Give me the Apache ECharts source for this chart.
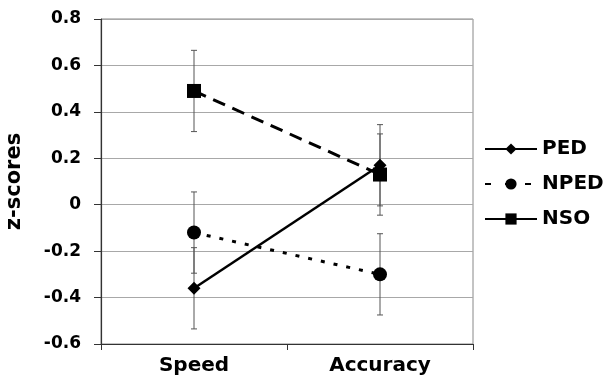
<!DOCTYPE html>
<html>
<head>
<meta charset="utf-8">
<script src="https://cdn.jsdelivr.net/npm/echarts@6/dist/echarts.min.js"></script>
<style>
  html, body { margin: 0; padding: 0; background: #fff; }
  #chart { width: 610px; height: 385px; }
</style>
</head>
<body>
<div id="chart"></div>
<script>
// 数据
var categories = ['Speed', 'Accuracy'];
var pedMean = [-0.36, 0.17];
var npedMean = [-0.12, -0.30];
var nsoMean = [0.49, 0.13];
// 误差 (+/-)
var pedErr = [0.175, 0.175];
var npedErr = [0.175, 0.175];
var nsoErr = [0.175, 0.175];

var FONT = 'DejaVu Sans';

function errData(mean, err) {
    return mean.map(function (m, i) { return [i, m - err[i], m + err[i]]; });
}

function errSeries(mean, err) {
    return {
        type: 'custom',
        z: 1,
        silent: true,
        data: errData(mean, err),
        renderItem: function (params, api) {
            var lo = api.coord([api.value(0), api.value(1)]);
            var hi = api.coord([api.value(0), api.value(2)]);
            var w = 3;
            var st = { stroke: '#555', lineWidth: 1 };
            return {
                type: 'group',
                children: [
                    { type: 'line', shape: { x1: lo[0], y1: lo[1], x2: hi[0], y2: hi[1] }, style: st },
                    { type: 'line', shape: { x1: lo[0] - w, y1: lo[1], x2: lo[0] + w, y2: lo[1] }, style: st },
                    { type: 'line', shape: { x1: hi[0] - w, y1: hi[1], x2: hi[0] + w, y2: hi[1] }, style: st }
                ]
            };
        }
    };
}

var myChart = echarts.init(document.getElementById('chart'));

option = {
    animation: false,
    backgroundColor: '#fff',
    grid: {
        left: 101,
        right: 137,
        top: 19,
        bottom: 41,
        outerBoundsMode: 'none',
        containLabel: false,
        show: true,
        borderColor: '#888',
        borderWidth: 1
    },
    legend: {
        orient: 'vertical',
        left: 479,
        top: 134,
        itemWidth: 52,
        itemHeight: 14,
        itemGap: 15,
        textStyle: { fontFamily: FONT, fontWeight: 'bold', fontSize: 20, color: '#000' },
        data: [
            { name: 'PED' },
            { name: 'NPED', lineStyle: { type: [6, 14] } },
            { name: 'NSO', lineStyle: { type: 'solid' } }
        ]
    },
    xAxis: {
        type: 'category',
        data: categories,
        boundaryGap: true,
        axisLine: { onZero: false, lineStyle: { color: '#333', width: 1.2 } },
        axisTick: { show: true, length: 6, lineStyle: { color: '#333' } },
        axisLabel: { fontFamily: FONT, fontWeight: 'bold', fontSize: 20, color: '#000', margin: 12 }
    },
    yAxis: {
        type: 'value',
        min: -0.6,
        max: 0.8,
        interval: 0.2,
        name: 'z-scores',
        nameLocation: 'middle',
        nameRotate: 90,
        nameGap: 76,
        nameTextStyle: { fontFamily: FONT, fontWeight: 'bold', fontSize: 21, color: '#000' },
        axisLine: { show: true, lineStyle: { color: '#333', width: 1.2 } },
        axisTick: { show: true, length: 7, lineStyle: { color: '#333' } },
        splitLine: { lineStyle: { color: '#a8a8a8', width: 1 } },
        axisLabel: {
            fontFamily: FONT, fontWeight: 'bold', fontSize: 17, color: '#000', margin: 20,
            formatter: function (v) { return String(+v.toFixed(1)); }
        }
    },
    series: [
        {
            name: 'PED',
            type: 'line',
            z: 3,
            data: pedMean,
            symbol: 'diamond',
            symbolSize: 13,
            itemStyle: { color: '#000' },
            lineStyle: { color: '#000', width: 2.5, type: 'solid' }
        },
        {
            name: 'NPED',
            type: 'line',
            z: 3,
            data: npedMean,
            symbol: 'circle',
            symbolSize: 14,
            itemStyle: { color: '#000' },
            lineStyle: { color: '#000', width: 3, type: [4, 9] }
        },
        {
            name: 'NSO',
            type: 'line',
            z: 3,
            data: nsoMean,
            symbol: 'rect',
            symbolSize: 14,
            itemStyle: { color: '#000' },
            lineStyle: { color: '#000', width: 3, type: [13, 8] }
        },
        errSeries(pedMean, pedErr),
        errSeries(npedMean, npedErr),
        errSeries(nsoMean, nsoErr)
    ]
};

myChart.setOption(option);
</script>
</body>
</html>
